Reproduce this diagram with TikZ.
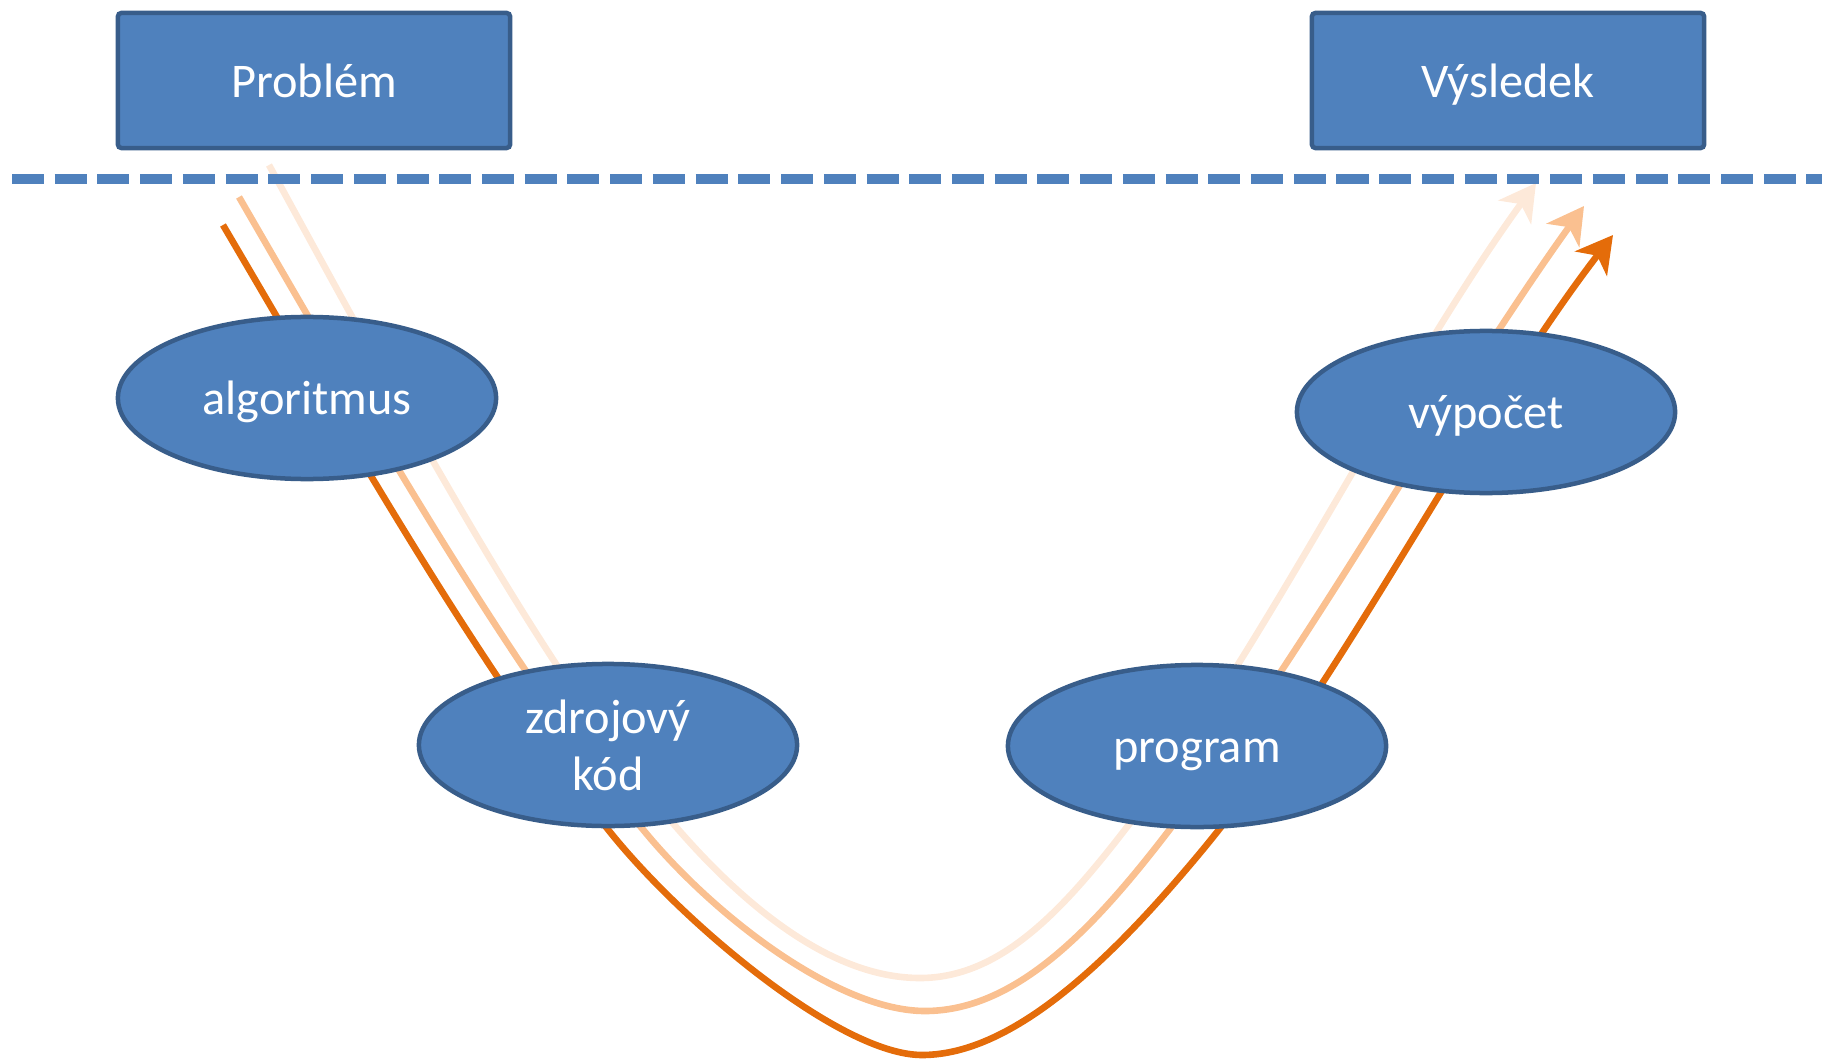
\documentclass[tikz,border=0pt]{standalone}
\usepackage{fontspec}
\setmainfont{Carlito}
\usetikzlibrary{arrows.meta,shapes.geometric}
\definecolor{boxfill}{RGB}{79,129,189}
\definecolor{boxline}{RGB}{56,93,138}
\definecolor{orDark}{RGB}{228,108,10}
\definecolor{orMid}{RGB}{250,192,144}
\definecolor{orLight}{RGB}{253,233,217}
\tikzset{
  topbox/.style={draw=boxline, fill=boxfill, line width=0.045cm, rounded corners=1pt,
    minimum width=3.92cm, minimum height=1.35cm, inner sep=0pt, text=white,
    font=\fontsize{13.75}{15.8}\selectfont},
  stage/.style={ellipse, draw=boxline, fill=boxfill, line width=0.045cm,
    minimum width=3.78cm, minimum height=1.62cm, inner sep=0pt, text=white, align=center,
    font=\fontsize{13.75}{16.2}\selectfont},
  oneline/.style={text height=0.33cm, text depth=0cm},
  flow/.style={line width=0.066cm, line join=round,
    -{Stealth[length=0.36cm, width=0.40cm, inset=0.1cm]}},
  sep/.style={draw=boxfill, line width=0.1cm, dash pattern=on 0.32cm off 0.107cm}
}
\begin{document}
\begin{tikzpicture}[x=0.01cm, y=-0.01cm]
\useasboundingbox (0,0) rectangle (1822,1058);
% flow curves
\coordinate (dS) at (223,225); \coordinate (dE) at (1613,235);
\coordinate (mS) at (239,197); \coordinate (mE) at (1584,206);
\coordinate (lS) at (269,165); \coordinate (lE) at (1536,183);
\draw[flow, draw=orLight] (lS)
  .. controls (409,421) and (547,678) .. (677,828)
  .. controls (750,912) and (835,978) .. (920,978)
  .. controls (1000,978) and (1062,911.5) .. (1127,827)
  .. controls (1267,645) and (1396,376) .. (lE);
\draw[flow, draw=orMid] (mS)
  .. controls (379,439) and (515,676) .. (645,832)
  .. controls (718,920) and (840,1011) .. (925,1011)
  .. controls (1015,1011) and (1092,930.5) .. (1167,833)
  .. controls (1307,651) and (1444,401) .. (mE);
\draw[flow, draw=orDark] (dS)
  .. controls (353,446) and (480,670) .. (610,832)
  .. controls (683,923) and (840,1055) .. (922,1055)
  .. controls (1015,1055) and (1115,955) .. (1200,853)
  .. controls (1340,685) and (1473,417) .. (dE);
% separator
\coordinate (sepL) at (12,179); \coordinate (sepR) at (1822,179);
\draw[sep] (sepL) -- (sepR);
% boxes
\node[topbox, oneline] (problem) at (314,80.5) {Problém};
\node[topbox, oneline] (vysledek) at (1508,80.5) {Výsledek};
% stages
\node[stage, oneline] (alg) at (307,398) {algoritmus};
\node[stage] (kod) at (608,745) {zdrojový\\kód};
\node[stage, oneline] (prog) at (1197,746) {program};
\node[stage, oneline] (vyp) at (1486,412) {výpočet};
\end{tikzpicture}
\end{document}
